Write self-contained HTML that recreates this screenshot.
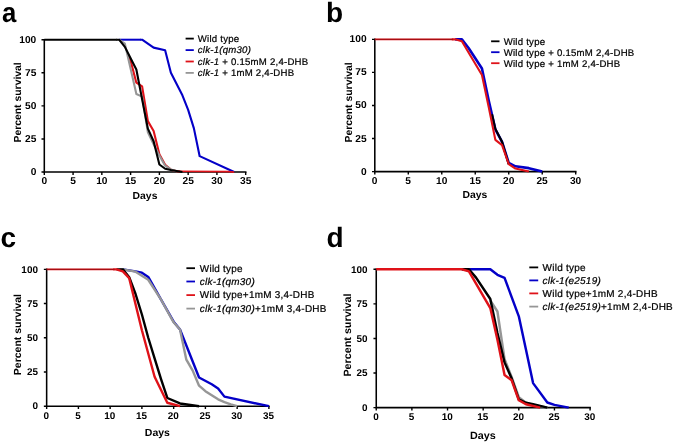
<!DOCTYPE html>
<html lang="en">
<head>
<meta charset="utf-8">
<title>Survival curves</title>
<style>
html,body{margin:0;padding:0;background:#fff;}
body{width:675px;height:443px;overflow:hidden;}
svg{display:block;font-family:"Liberation Sans",Arial,Helvetica,sans-serif;text-rendering:geometricPrecision;}
.tick{font-weight:bold;font-size:1.0em;fill:#000;}
.ttl{font-weight:bold;font-size:1.02em;fill:#000;}
.leg{font-size:0.96em;fill:#000;stroke:#000;stroke-width:0.22px;letter-spacing:0.025em;}
.lab{font-weight:bold;font-size:28px;fill:#000;}
.ax{stroke:#000;stroke-width:1.55;fill:none;stroke-linecap:butt;}
.cv{fill:none;stroke-width:2.0px;stroke-linejoin:round;stroke-linecap:butt;}
</style>
</head>
<body>
<svg width="675" height="443" viewBox="0 0 675 443">
<rect width="675" height="443" fill="#ffffff"/>
<g id="panel-a" style="font-size:10px">
<text class="lab" transform="translate(2 21.9) scale(0.92 1)">a</text>
<path class="ax" d="M44.3 38.93 V172.83 M43.52 172.05 H246.47"/>
<path class="ax" style="stroke-width:1.4" d="M41.5 172.05 H44.3 M41.5 138.96 H44.3 M41.5 105.88 H44.3 M41.5 72.79 H44.3 M41.5 39.7 H44.3 M44.3 172.05 V174.95 M73.07 172.05 V174.95 M101.84 172.05 V174.95 M130.61 172.05 V174.95 M159.38 172.05 V174.95 M188.15 172.05 V174.95 M216.92 172.05 V174.95 M245.69 172.05 V174.95"/>
<polyline class="cv" stroke="#0400c8" style="stroke-width:2px" points="119.1,39.7 140.97,39.7"/>
<polyline class="cv" stroke="#0400c8" style="stroke-width:2.1px" points="140.39,39.7 142.12,39.7 153.63,47.64 165.13,50.29 170.89,72.79 182.4,95.29 188.15,109.85 193.9,128.37 199.66,156.17 234.18,172.05"/>
<polyline class="cv" stroke="#df1219" style="stroke-width:2.1px" points="127.73,53.99 130.61,60.88 136.36,82.71 142.12,86.42 147.87,121.1 153.63,131.02 159.38,154.18 165.13,164.77 170.89,169.67 176.64,171.26 180.09,171.52"/>
<polyline class="cv" stroke="#969696" style="stroke-width:2.1px" points="119.1,39.7 124.86,43.67 130.61,68.82 136.36,93.96 142.12,96.61 147.87,132.34 153.63,144.26 159.38,155.51 165.13,165.7 170.89,169.4 176.64,171.26"/>
<polyline class="cv" stroke="#df1219" style="stroke-width:1.7px" points="175.49,171.26 228.43,171.65 234.18,172.05"/>
<polyline class="cv" stroke="#000000" style="stroke-width:2px" points="44.3,39.7 116.8,39.7"/>
<polyline class="cv" stroke="#000000" style="stroke-width:2.1px" points="116.22,39.7 119.1,39.7 124.86,46.85 130.61,58.23 136.36,69.48 142.12,99.26 147.87,128.64 153.63,141.21 159.38,164.51 165.13,168.74 170.89,170.06 182.4,172.05"/>
<text class="tick" text-anchor="end" transform="translate(36.3 175.25) scale(1.02 1)">0</text>
<text class="tick" text-anchor="end" transform="translate(36.3 142.16) scale(1.02 1)">25</text>
<text class="tick" text-anchor="end" transform="translate(36.3 109.08) scale(1.02 1)">50</text>
<text class="tick" text-anchor="end" transform="translate(36.3 75.99) scale(1.02 1)">75</text>
<text class="tick" text-anchor="end" transform="translate(36.3 42.9) scale(1.02 1)">100</text>
<text class="tick" text-anchor="middle" transform="translate(44.3 184.25) scale(1.02 1)">0</text>
<text class="tick" text-anchor="middle" transform="translate(73.07 184.25) scale(1.02 1)">5</text>
<text class="tick" text-anchor="middle" transform="translate(101.84 184.25) scale(1.02 1)">10</text>
<text class="tick" text-anchor="middle" transform="translate(130.61 184.25) scale(1.02 1)">15</text>
<text class="tick" text-anchor="middle" transform="translate(159.38 184.25) scale(1.02 1)">20</text>
<text class="tick" text-anchor="middle" transform="translate(188.15 184.25) scale(1.02 1)">25</text>
<text class="tick" text-anchor="middle" transform="translate(216.92 184.25) scale(1.02 1)">30</text>
<text class="tick" text-anchor="middle" transform="translate(245.69 184.25) scale(1.02 1)">35</text>
<text class="ttl" text-anchor="middle" transform="translate(145 198.7) scale(1.02 1)">Days</text>
<text class="ttl" text-anchor="middle" transform="translate(20.8 102.4) rotate(-90) scale(1.02 1)">Percent survival</text>
<line x1="185.6" x2="193.8" y1="38.6" y2="38.6" stroke="#000000" stroke-width="1.8"/>
<text class="leg" transform="translate(197.8 41.95) scale(1 1)">Wild type</text>
<line x1="185.6" x2="193.8" y1="50.1" y2="50.1" stroke="#0400c8" stroke-width="1.8"/>
<text class="leg" transform="translate(197.8 53.45) scale(1 1)"><tspan font-style='italic'>clk-1(qm30)</tspan></text>
<line x1="185.6" x2="193.8" y1="61.5" y2="61.5" stroke="#df1219" stroke-width="1.8"/>
<text class="leg" transform="translate(197.8 64.85) scale(1 1)"><tspan font-style='italic'>clk-1</tspan> + 0.15mM 2,4-DHB</text>
<line x1="185.6" x2="193.8" y1="72.9" y2="72.9" stroke="#969696" stroke-width="1.8"/>
<text class="leg" transform="translate(197.8 76.25) scale(1 1)"><tspan font-style='italic'>clk-1</tspan> + 1mM 2,4-DHB</text>
</g>
<g id="panel-b" style="font-size:10px">
<text class="lab" transform="translate(326 22) scale(1 1)">b</text>
<path class="ax" d="M374.8 38.58 V172.38 M374.03 171.6 H576.49"/>
<path class="ax" style="stroke-width:1.4" d="M372 171.6 H374.8 M372 138.54 H374.8 M372 105.47 H374.8 M372 72.41 H374.8 M372 39.35 H374.8 M374.8 171.6 V174.5 M408.29 171.6 V174.5 M441.77 171.6 V174.5 M475.25 171.6 V174.5 M508.74 171.6 V174.5 M542.23 171.6 V174.5 M575.71 171.6 V174.5"/>
<polyline class="cv" stroke="#0400c8" style="stroke-width:2.6px" points="455.16,39.35 461.86,39.35 468.56,47.95 481.95,68.44 488.65,100.18 495.35,129.28 502.04,141.84 508.74,163 515.44,166.31 528.83,168.16 542.23,171.6"/>
<polyline class="cv" stroke="#000000" style="stroke-width:2.1px" points="492,114.2 495.35,128.88 502.04,141.84 508.74,164.33"/>
<polyline class="cv" stroke="#df1219" style="stroke-width:1.75px" points="374.8,39.35 452.49,39.35"/>
<polyline class="cv" stroke="#df1219" style="stroke-width:2.1px" points="451.82,39.35 455.16,39.35 461.86,41.33 481.95,75.06 488.65,106.8 495.35,139.86 502.04,145.15 508.74,164.06 515.44,168.56 528.83,171.6"/>
<polyline class="cv" stroke="#000000" style="stroke-width:1.1px" stroke-opacity="0.25" points="374.8,39.35 453.15,39.35"/>
<text class="tick" text-anchor="end" transform="translate(366.6 174.6) scale(1.02 1)">0</text>
<text class="tick" text-anchor="end" transform="translate(366.6 141.54) scale(1.02 1)">25</text>
<text class="tick" text-anchor="end" transform="translate(366.6 108.47) scale(1.02 1)">50</text>
<text class="tick" text-anchor="end" transform="translate(366.6 75.41) scale(1.02 1)">75</text>
<text class="tick" text-anchor="end" transform="translate(366.6 42.35) scale(1.02 1)">100</text>
<text class="tick" text-anchor="middle" transform="translate(374.7 183.5) scale(1.02 1)">0</text>
<text class="tick" text-anchor="middle" transform="translate(408.19 183.5) scale(1.02 1)">5</text>
<text class="tick" text-anchor="middle" transform="translate(441.67 183.5) scale(1.02 1)">10</text>
<text class="tick" text-anchor="middle" transform="translate(475.15 183.5) scale(1.02 1)">15</text>
<text class="tick" text-anchor="middle" transform="translate(508.64 183.5) scale(1.02 1)">20</text>
<text class="tick" text-anchor="middle" transform="translate(542.12 183.5) scale(1.02 1)">25</text>
<text class="tick" text-anchor="middle" transform="translate(575.61 183.5) scale(1.02 1)">30</text>
<text class="ttl" text-anchor="middle" transform="translate(474.9 197.6) scale(1.02 1)">Days</text>
<text class="ttl" text-anchor="middle" transform="translate(352 102.4) rotate(-90) scale(1.02 1)">Percent survival</text>
<line x1="491.1" x2="499.5" y1="41.3" y2="41.3" stroke="#000000" stroke-width="1.8"/>
<text class="leg" transform="translate(503.7 44.65) scale(1 1)">Wild type</text>
<line x1="491.1" x2="499.5" y1="52.2" y2="52.2" stroke="#0400c8" stroke-width="1.8"/>
<text class="leg" transform="translate(503.7 55.55) scale(1 1)">Wild type + 0.15mM 2,4-DHB</text>
<line x1="491.1" x2="499.5" y1="63.2" y2="63.2" stroke="#df1219" stroke-width="1.8"/>
<text class="leg" transform="translate(503.7 66.55) scale(1 1)">Wild type + 1mM 2,4-DHB</text>
</g>
<g id="panel-c" style="font-size:10.1px">
<text class="lab" transform="translate(0.5 247) scale(1 1)">c</text>
<path class="ax" d="M46.65 268.58 V406.97 M45.88 406.2 H269.67"/>
<path class="ax" style="stroke-width:1.4" d="M43.85 406.2 H46.65 M43.85 371.99 H46.65 M43.85 337.77 H46.65 M43.85 303.56 H46.65 M43.85 269.35 H46.65 M46.65 406.2 V409.1 M78.4 406.2 V409.1 M110.15 406.2 V409.1 M141.9 406.2 V409.1 M173.65 406.2 V409.1 M205.4 406.2 V409.1 M237.15 406.2 V409.1 M268.9 406.2 V409.1"/>
<polyline class="cv" stroke="#0400c8" style="stroke-width:2.4px" points="122.85,269.35 135.55,271.4 141.9,272.63 148.25,276.88 160.95,299.46 173.65,321.63 180,329.56 199.05,377.46 211.75,384.3 218.1,388.41 224.45,396.62 268.9,406.2"/>
<polyline class="cv" stroke="#969696" style="stroke-width:2.4px" points="119.67,269.35 122.85,269.35 135.55,271.68 148.25,279.75 160.95,299.46 173.65,322.31 180,329.56 186.35,359.67 192.7,370.62 199.05,385.67 205.4,391.15 211.75,395.25 218.1,399.36 224.45,402.09 230.8,404.42 237.15,406.2"/>
<polyline class="cv" stroke="#000000" style="stroke-width:2.4px" points="116.5,269.35 122.85,269.35 129.2,277.15 135.55,293.98 141.9,314.51 148.25,337.77 154.6,358.3 160.95,378.83 167.3,397.99 180,403.46 199.05,406.2"/>
<polyline class="cv" stroke="#df1219" style="stroke-width:1.8px" points="46.65,269.35 113.96,269.35"/>
<polyline class="cv" stroke="#df1219" style="stroke-width:2.4px" points="113.32,269.35 116.5,269.35 122.85,271.4 129.2,278.11 141.9,330.25 154.6,376.78 167.3,402.78 180,406.2"/>
<polyline class="cv" stroke="#000000" style="stroke-width:1.1px" stroke-opacity="0.25" points="46.65,269.35 114.59,269.35"/>
<text class="tick" text-anchor="end" transform="translate(37.95 409.35) scale(0.985 0.965)">0</text>
<text class="tick" text-anchor="end" transform="translate(37.95 375.14) scale(0.985 0.965)">25</text>
<text class="tick" text-anchor="end" transform="translate(37.95 340.92) scale(0.985 0.965)">50</text>
<text class="tick" text-anchor="end" transform="translate(37.95 306.71) scale(0.985 0.965)">75</text>
<text class="tick" text-anchor="end" transform="translate(37.95 272.5) scale(0.985 0.965)">100</text>
<text class="tick" text-anchor="middle" transform="translate(46.3 418.82) scale(0.985 0.965)">0</text>
<text class="tick" text-anchor="middle" transform="translate(78.05 418.82) scale(0.985 0.965)">5</text>
<text class="tick" text-anchor="middle" transform="translate(109.8 418.82) scale(0.985 0.965)">10</text>
<text class="tick" text-anchor="middle" transform="translate(141.55 418.82) scale(0.985 0.965)">15</text>
<text class="tick" text-anchor="middle" transform="translate(173.3 418.82) scale(0.985 0.965)">20</text>
<text class="tick" text-anchor="middle" transform="translate(205.05 418.82) scale(0.985 0.965)">25</text>
<text class="tick" text-anchor="middle" transform="translate(236.8 418.82) scale(0.985 0.965)">30</text>
<text class="tick" text-anchor="middle" transform="translate(268.55 418.82) scale(0.985 0.965)">35</text>
<text class="ttl" text-anchor="middle" transform="translate(157.4 435.7) scale(1.02 1)">Days</text>
<text class="ttl" text-anchor="middle" transform="translate(20.8 334.6) rotate(-90) scale(1.02 1)">Percent survival</text>
<line x1="186.4" x2="195" y1="268.2" y2="268.2" stroke="#000000" stroke-width="1.8"/>
<text class="leg" transform="translate(199.8 271.55) scale(1.025 1.025)">Wild type</text>
<line x1="186.4" x2="195" y1="281.5" y2="281.5" stroke="#0400c8" stroke-width="1.8"/>
<text class="leg" transform="translate(199.8 284.85) scale(1.025 1.025)"><tspan font-style='italic'>clk-1(qm30)</tspan></text>
<line x1="186.4" x2="195" y1="295.1" y2="295.1" stroke="#df1219" stroke-width="1.8"/>
<text class="leg" transform="translate(199.8 298.45) scale(1.025 1.025)">Wild type+1mM 3,4-DHB</text>
<line x1="186.4" x2="195" y1="308.6" y2="308.6" stroke="#969696" stroke-width="1.8"/>
<text class="leg" transform="translate(199.8 311.95) scale(1.025 1.025)"><tspan font-style='italic'>clk-1(qm30)</tspan>+1mM 3,4-DHB</text>
</g>
<g id="panel-d" style="font-size:10.35px">
<text class="lab" transform="translate(326.6 247) scale(1 1)">d</text>
<path class="ax" d="M376.25 268.53 V408.38 M375.48 407.6 H590.87"/>
<path class="ax" style="stroke-width:1.4" d="M373.45 407.6 H376.25 M373.45 373.03 H376.25 M373.45 338.45 H376.25 M373.45 303.88 H376.25 M373.45 269.3 H376.25 M376.25 407.6 V410.5 M411.89 407.6 V410.5 M447.53 407.6 V410.5 M483.17 407.6 V410.5 M518.81 407.6 V410.5 M554.45 407.6 V410.5 M590.09 407.6 V410.5"/>
<polyline class="cv" stroke="#969696" style="stroke-width:2.45px" points="490.3,300.42 497.43,311.48 504.55,359.2 511.68,377.17 518.81,397.23 525.94,402.76 533.07,404.83 547.32,407.6"/>
<polyline class="cv" stroke="#0400c8" style="stroke-width:2.45px" points="461.79,269.3 490.3,269.3 497.43,274.83 504.55,277.87 518.81,316.32 525.94,349.51 533.07,383.12 547.32,402.48 554.45,404.83 568.71,407.6"/>
<polyline class="cv" stroke="#000000" style="stroke-width:2.45px" points="461.79,269.3 468.91,269.3 476.04,277.6 490.3,299.03 497.43,332.92 504.55,362.38 511.68,378.56 518.81,399.3 525.94,402.76 533.07,404.14 547.32,407.6"/>
<polyline class="cv" stroke="#df1219" style="stroke-width:2.45px" points="376.25,269.3 461.79,269.3 468.91,271.37 490.3,308.02 497.43,339.83 504.55,374.96 511.68,380.35 518.81,400.27 525.94,404.28 540.19,407.6"/>
<text class="tick" text-anchor="end" transform="translate(367.55 410.8) scale(0.961 0.942)">0</text>
<text class="tick" text-anchor="end" transform="translate(367.55 376.23) scale(0.961 0.942)">25</text>
<text class="tick" text-anchor="end" transform="translate(367.55 341.65) scale(0.961 0.942)">50</text>
<text class="tick" text-anchor="end" transform="translate(367.55 307.07) scale(0.961 0.942)">75</text>
<text class="tick" text-anchor="end" transform="translate(367.55 272.5) scale(0.961 0.942)">100</text>
<text class="tick" text-anchor="middle" transform="translate(375.9 419.8) scale(0.961 0.942)">0</text>
<text class="tick" text-anchor="middle" transform="translate(411.54 419.8) scale(0.961 0.942)">5</text>
<text class="tick" text-anchor="middle" transform="translate(447.18 419.8) scale(0.961 0.942)">10</text>
<text class="tick" text-anchor="middle" transform="translate(482.82 419.8) scale(0.961 0.942)">15</text>
<text class="tick" text-anchor="middle" transform="translate(518.46 419.8) scale(0.961 0.942)">20</text>
<text class="tick" text-anchor="middle" transform="translate(554.1 419.8) scale(0.961 0.942)">25</text>
<text class="tick" text-anchor="middle" transform="translate(589.74 419.8) scale(0.961 0.942)">30</text>
<text class="ttl" text-anchor="middle" transform="translate(482.9 439) scale(1.02 1)">Days</text>
<text class="ttl" text-anchor="middle" transform="translate(351 335) rotate(-90) scale(1.02 1)">Percent survival</text>
<line x1="529.3" x2="538.2" y1="267.4" y2="267.4" stroke="#000000" stroke-width="1.8"/>
<text class="leg" transform="translate(542.6 270.75) scale(1.005 1.005)">Wild type</text>
<line x1="529.3" x2="538.2" y1="280.4" y2="280.4" stroke="#0400c8" stroke-width="1.8"/>
<text class="leg" transform="translate(542.6 283.75) scale(1.005 1.005)"><tspan font-style='italic'>clk-1(e2519)</tspan></text>
<line x1="529.3" x2="538.2" y1="293.4" y2="293.4" stroke="#df1219" stroke-width="1.8"/>
<text class="leg" transform="translate(542.6 296.75) scale(1.005 1.005)">Wild type+1mM 2,4-DHB</text>
<line x1="529.3" x2="538.2" y1="306.6" y2="306.6" stroke="#969696" stroke-width="1.8"/>
<text class="leg" transform="translate(542.6 309.95) scale(1.005 1.005)"><tspan font-style='italic'>clk-1(e2519)</tspan>+1mM 2,4-DHB</text>
</g>
</svg>
</body>
</html>
